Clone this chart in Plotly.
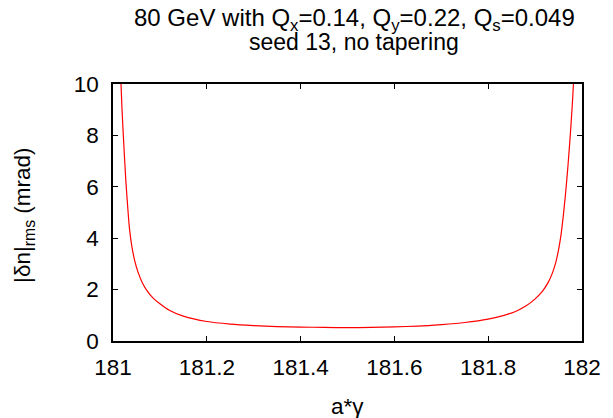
import plotly.graph_objects as go

a_gamma = [181.016, 181.019, 181.022, 181.0245, 181.0275, 181.031, 181.035, 181.040,
           181.046, 181.053, 181.063, 181.074, 181.085, 181.100, 181.120, 181.150,
           181.200, 181.250, 181.300, 181.350, 181.400, 181.450, 181.500, 181.550,
           181.600, 181.650, 181.700, 181.750, 181.800, 181.830, 181.857, 181.880,
           181.899, 181.915, 181.928, 181.937, 181.944, 181.950, 181.955, 181.960,
           181.965, 181.970, 181.975, 181.980, 181.984]
dn_rms = [10.5, 9.1, 8.0, 7.15, 6.2, 5.3, 4.4, 3.7,
          3.15, 2.7, 2.25, 1.92, 1.68, 1.45, 1.2, 0.97,
          0.76, 0.66, 0.60, 0.56, 0.54, 0.53, 0.52, 0.53,
          0.55, 0.58, 0.64, 0.72, 0.85, 0.98, 1.14, 1.36,
          1.62, 1.92, 2.28, 2.65, 3.05, 3.55, 4.1, 4.85,
          5.75, 6.8, 8.0, 9.4, 10.8]

x_ticks = [181, 181.2, 181.4, 181.6, 181.8, 182]
x_ticklabels = ["181", "181.2", "181.4", "181.6", "181.8", "182"]
y_ticks = [0, 2, 4, 6, 8, 10]
y_ticklabels = ["0", "2", "4", "6", "8", "10"]

title_line1 = "80 GeV with Q<sub>x</sub>=0.14, Q<sub>y</sub>=0.22, Q<sub>s</sub>=0.049"
title_line2 = "seed 13, no tapering"
x_title = "a*γ"
y_title = "|δn|<sub>rms</sub> (mrad)"

FAM = "Liberation Sans, Arial, sans-serif"

fig = go.Figure()
fig.add_trace(go.Scatter(x=a_gamma, y=dn_rms, mode="lines",
                         line=dict(color="#ff0000", width=1.2, shape="spline", smoothing=0.6),
                         showlegend=False))

fig.update_layout(
    width=613, height=418,
    margin=dict(l=113, r=29, t=84, b=77),
    paper_bgcolor="white", plot_bgcolor="white",
    font=dict(family=FAM, size=22.5, color="black"),
)
axis_common = dict(showline=True, linecolor="black", linewidth=1.5, mirror="ticks",
                   ticks="inside", ticklen=5, tickcolor="black", showgrid=False,
                   zeroline=False)
fig.update_xaxes(range=[181, 182], tickvals=x_ticks, ticktext=x_ticklabels,
                 ticklabelstandoff=5, **axis_common)
fig.update_yaxes(range=[0, 10], tickvals=y_ticks, ticktext=y_ticklabels,
                 ticklabelstandoff=8, **axis_common)

fig.add_annotation(text=title_line1, xref="paper", yref="paper", x=0.514, y=1.252,
                   xanchor="center", yanchor="middle", showarrow=False,
                   font=dict(family=FAM, size=24, color="black"))
fig.add_annotation(text=title_line2, xref="paper", yref="paper", x=0.514, y=1.162,
                   xanchor="center", yanchor="middle", showarrow=False,
                   font=dict(family=FAM, size=23, color="black"))
fig.add_annotation(text=x_title, xref="paper", yref="paper", x=0.5, y=-0.253,
                   xanchor="center", yanchor="middle", showarrow=False,
                   font=dict(family=FAM, size=22.5, color="black"))
fig.add_annotation(text=y_title, xref="paper", yref="paper", x=-0.19, y=0.49,
                   xanchor="center", yanchor="middle", showarrow=False, textangle=-90,
                   font=dict(family=FAM, size=22.5, color="black"))

fig.write_html("out.html")
